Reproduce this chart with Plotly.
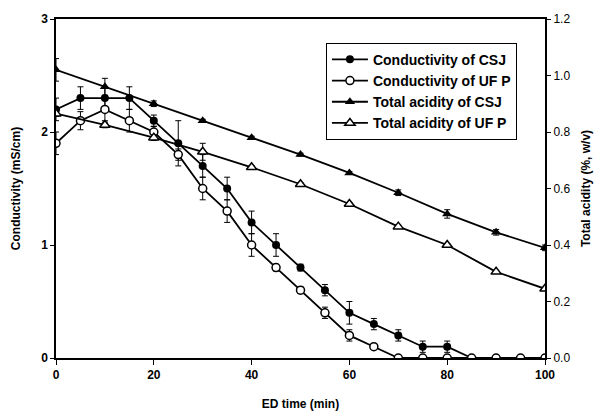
import plotly.graph_objects as go

time_c = [0, 5, 10, 15, 20, 25, 30, 35, 40, 45, 50, 55, 60, 65, 70, 75, 80, 85, 90, 95, 100]
cond_csj = [2.2, 2.3, 2.3, 2.3, 2.1, 1.9, 1.7, 1.5, 1.2, 1.0, 0.8, 0.6, 0.4, 0.3, 0.2, 0.1, 0.1, 0, 0, 0, 0]
cond_csj_err = [0.1, 0.1, 0.1, 0.1, 0.05, 0.2, 0.1, 0.1, 0.1, 0.1, 0.03, 0.05, 0.1, 0.05, 0.05, 0.05, 0.05, 0, 0, 0, 0]
cond_ufp = [1.9, 2.1, 2.2, 2.1, 2.0, 1.8, 1.5, 1.3, 1.0, 0.8, 0.6, 0.4, 0.2, 0.1, 0, 0, 0, 0, 0, 0, 0]
cond_ufp_err = [0.1, 0.08, 0.1, 0.1, 0.05, 0.05, 0.1, 0.1, 0.1, 0.03, 0.03, 0.05, 0.05, 0, 0, 0, 0, 0, 0, 0, 0]

time_a = [0, 10, 20, 30, 40, 50, 60, 70, 80, 90, 100]
acid_csj = [1.02, 0.96, 0.90, 0.84, 0.78, 0.72, 0.655, 0.585, 0.51, 0.445, 0.39]
acid_csj_err = [0.04, 0.03, 0.01, 0.005, 0.005, 0.005, 0.005, 0.01, 0.015, 0.01, 0.01]
acid_ufp = [0.865, 0.825, 0.78, 0.73, 0.675, 0.615, 0.545, 0.465, 0.40, 0.305, 0.245]
acid_ufp_err = [0.01, 0.01, 0.01, 0.03, 0.005, 0.005, 0.005, 0.005, 0.005, 0.005, 0.005]

names = ["Conductivity of CSJ", "Conductivity of UF P", "Total acidity of CSJ", "Total acidity of UF P"]

def err(a):
    return dict(type="data", array=a, visible=True, color="black", thickness=1, width=3)

fig = go.Figure()
fig.add_trace(go.Scatter(x=time_a, y=acid_ufp, name="<b>" + names[3] + "</b>", yaxis="y2", legendrank=4,
                         mode="lines+markers", line=dict(color="black", width=1.8),
                         marker=dict(symbol="triangle-up", size=9, color="white", line=dict(color="black", width=1.5)),
                         error_y=err(acid_ufp_err)))
fig.add_trace(go.Scatter(x=time_a, y=acid_csj, name="<b>" + names[2] + "</b>", yaxis="y2", legendrank=3,
                         mode="lines+markers", line=dict(color="black", width=1.8),
                         marker=dict(symbol="triangle-up", size=9, color="black"),
                         error_y=err(acid_csj_err)))
fig.add_trace(go.Scatter(x=time_c, y=cond_csj, name="<b>" + names[0] + "</b>", legendrank=1,
                         mode="lines+markers", line=dict(color="black", width=1.8),
                         marker=dict(symbol="circle", size=8, color="black"),
                         error_y=err(cond_csj_err)))
fig.add_trace(go.Scatter(x=time_c, y=cond_ufp, name="<b>" + names[1] + "</b>", legendrank=2,
                         mode="lines+markers", line=dict(color="black", width=1.8),
                         marker=dict(symbol="circle", size=8, color="white", line=dict(color="black", width=1.5)),
                         error_y=err(cond_ufp_err)))

F = "Liberation Sans"
fig.update_layout(
    width=602, height=412,
    margin=dict(l=56, r=57, t=19, b=54, autoexpand=False),
    paper_bgcolor="white", plot_bgcolor="white",
    font=dict(family=F, size=11, color="black"),
    showlegend=True,
    legend=dict(x=0.552, y=0.93, xanchor="left", yanchor="top",
                bgcolor="white", bordercolor="black", borderwidth=1,
                font=dict(family=F, size=14, color="black"),
                tracegroupgap=0, itemwidth=36),
    xaxis=dict(range=[0, 100], tickvals=[0, 20, 40, 60, 80, 100],
               ticktext=["<b>%d</b>" % v for v in [0, 20, 40, 60, 80, 100]],
               showgrid=False, zeroline=False, automargin=False,
               showline=True, linecolor="black", linewidth=1.5, mirror=True,
               ticks="outside", ticklen=5, tickcolor="black",
               tickfont=dict(family=F, size=12, color="black"),
               title=dict(text="<b>ED time (min)</b>", font=dict(family=F, size=12, color="black"),
                          standoff=18)),
    yaxis=dict(range=[0, 3], tickvals=[0, 1, 2, 3], ticktext=["<b>%d</b>" % v for v in [0, 1, 2, 3]],
               showgrid=False, zeroline=False, automargin=False,
               showline=True, linecolor="black", linewidth=1.5,
               ticks="outside", ticklen=4, tickcolor="black",
               tickfont=dict(family=F, size=12, color="black"),
               title=dict(text="<b>Conductivity (mS/cm)</b>", font=dict(family=F, size=12, color="black"),
                          standoff=18)),
    yaxis2=dict(range=[0, 1.2], tickvals=[0, 0.2, 0.4, 0.6, 0.8, 1.0, 1.2], tickformat=".1f",
                overlaying="y", side="right", showgrid=False, zeroline=False, automargin=False,
                showline=True, linecolor="black", linewidth=2,
                ticks="outside", ticklen=4, tickcolor="black",
                tickfont=dict(family=F, size=12, color="black"),
                title=dict(text="<b>Total acidity (%, w/v)</b>", font=dict(family=F, size=12, color="black"),
                           standoff=12)),
)

fig.write_html("out.html", config={"displayModeBar": False},
               post_script="document.body.style.margin='0';document.body.style.overflow='hidden';")
